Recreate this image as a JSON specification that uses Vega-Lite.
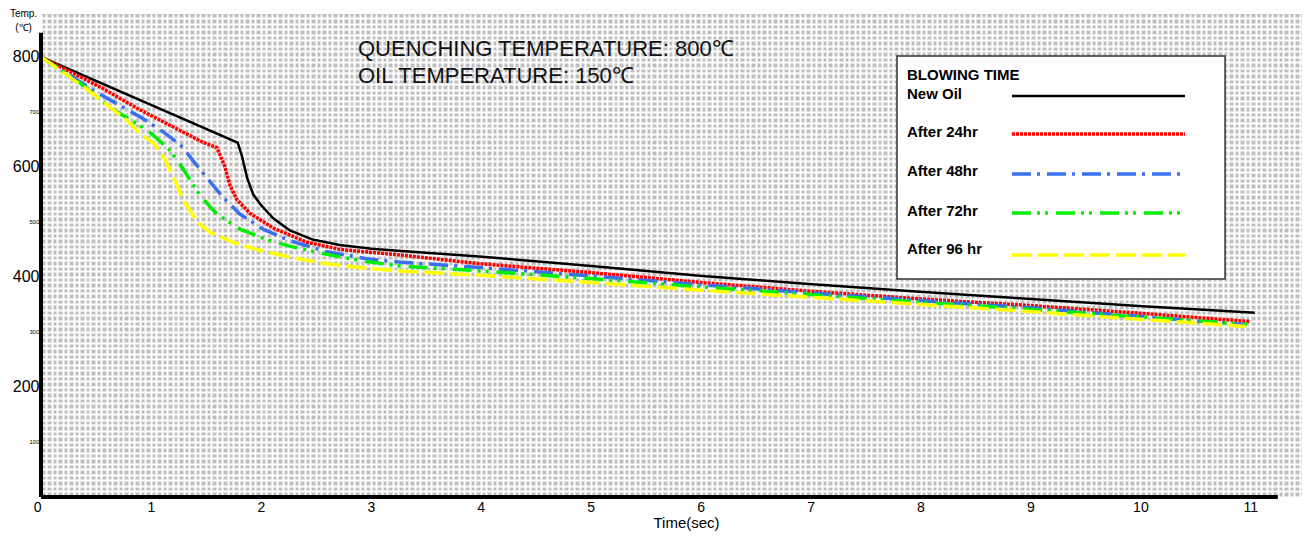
{
  "$schema": "https://vega.github.io/schema/vega-lite/v6.json",
  "width": 1261,
  "height": 483,
  "autosize": {"type": "none"},
  "padding": {"left": 41, "top": 14, "right": 7, "bottom": 39},
  "background": "white",
  "config": {
    "view": {"fill": "#bfbfbf", "stroke": null},
    "font": "Liberation Sans",
    "axis": {"domain": false, "ticks": false, "grid": true, "gridColor": "white", "gridWidth": 2, "gridOpacity": 1, "labelColor": "black", "titleColor": "black", "labelOverlap": false, "labelFlush": false}
  },
  "datasets": {
    "curves": [
      {"series": "New Oil", "time": 0, "temp": 800},
      {"series": "New Oil", "time": 1.79, "temp": 644},
      {"series": "New Oil", "time": 1.83, "temp": 618},
      {"series": "New Oil", "time": 1.875, "temp": 580},
      {"series": "New Oil", "time": 1.93, "temp": 550},
      {"series": "New Oil", "time": 2.0, "temp": 531},
      {"series": "New Oil", "time": 2.11, "temp": 507},
      {"series": "New Oil", "time": 2.26, "temp": 485},
      {"series": "New Oil", "time": 2.47, "temp": 468},
      {"series": "New Oil", "time": 2.72, "temp": 458},
      {"series": "New Oil", "time": 3.02, "temp": 451},
      {"series": "New Oil", "time": 3.5, "temp": 444},
      {"series": "New Oil", "time": 4, "temp": 437},
      {"series": "New Oil", "time": 5, "temp": 420},
      {"series": "New Oil", "time": 6, "temp": 402},
      {"series": "New Oil", "time": 7, "temp": 387},
      {"series": "New Oil", "time": 8, "temp": 373},
      {"series": "New Oil", "time": 9, "temp": 360},
      {"series": "New Oil", "time": 10, "temp": 347},
      {"series": "New Oil", "time": 11.04, "temp": 335},
      {"series": "After 24hr", "time": 0, "temp": 800},
      {"series": "After 24hr", "time": 0.54, "temp": 745},
      {"series": "After 24hr", "time": 0.9, "temp": 704},
      {"series": "After 24hr", "time": 1.2, "temp": 673},
      {"series": "After 24hr", "time": 1.47, "temp": 645},
      {"series": "After 24hr", "time": 1.6, "temp": 635},
      {"series": "After 24hr", "time": 1.67, "temp": 602},
      {"series": "After 24hr", "time": 1.72, "temp": 566},
      {"series": "After 24hr", "time": 1.78, "temp": 541},
      {"series": "After 24hr", "time": 1.9, "temp": 516},
      {"series": "After 24hr", "time": 2.11, "temp": 489},
      {"series": "After 24hr", "time": 2.42, "temp": 463},
      {"series": "After 24hr", "time": 2.72, "temp": 450},
      {"series": "After 24hr", "time": 3.26, "temp": 440},
      {"series": "After 24hr", "time": 4, "temp": 424},
      {"series": "After 24hr", "time": 5, "temp": 408},
      {"series": "After 24hr", "time": 6, "temp": 390},
      {"series": "After 24hr", "time": 7, "temp": 374},
      {"series": "After 24hr", "time": 8, "temp": 360},
      {"series": "After 24hr", "time": 9, "temp": 348},
      {"series": "After 24hr", "time": 10, "temp": 334},
      {"series": "After 24hr", "time": 10.99, "temp": 319},
      {"series": "After 48hr", "time": 0, "temp": 800},
      {"series": "After 48hr", "time": 0.47, "temp": 740},
      {"series": "After 48hr", "time": 0.9, "temp": 691},
      {"series": "After 48hr", "time": 1.11, "temp": 664},
      {"series": "After 48hr", "time": 1.29, "temp": 636},
      {"series": "After 48hr", "time": 1.38, "temp": 612},
      {"series": "After 48hr", "time": 1.51, "temp": 580},
      {"series": "After 48hr", "time": 1.65, "temp": 546},
      {"series": "After 48hr", "time": 1.81, "temp": 514},
      {"series": "After 48hr", "time": 2.02, "temp": 487},
      {"series": "After 48hr", "time": 2.26, "temp": 466},
      {"series": "After 48hr", "time": 2.6, "temp": 446},
      {"series": "After 48hr", "time": 2.96, "temp": 433},
      {"series": "After 48hr", "time": 3.26, "temp": 427},
      {"series": "After 48hr", "time": 4, "temp": 417},
      {"series": "After 48hr", "time": 5, "temp": 402},
      {"series": "After 48hr", "time": 6, "temp": 386},
      {"series": "After 48hr", "time": 7, "temp": 371},
      {"series": "After 48hr", "time": 8, "temp": 357},
      {"series": "After 48hr", "time": 9, "temp": 344},
      {"series": "After 48hr", "time": 10, "temp": 328},
      {"series": "After 48hr", "time": 10.97, "temp": 313},
      {"series": "After 72hr", "time": 0, "temp": 800},
      {"series": "After 72hr", "time": 0.36, "temp": 752},
      {"series": "After 72hr", "time": 0.63, "temp": 708},
      {"series": "After 72hr", "time": 0.93, "temp": 671},
      {"series": "After 72hr", "time": 1.02, "temp": 658},
      {"series": "After 72hr", "time": 1.17, "temp": 631},
      {"series": "After 72hr", "time": 1.29, "temp": 597},
      {"series": "After 72hr", "time": 1.45, "temp": 547},
      {"series": "After 72hr", "time": 1.6, "temp": 514},
      {"series": "After 72hr", "time": 1.81, "temp": 487},
      {"series": "After 72hr", "time": 2.05, "temp": 468},
      {"series": "After 72hr", "time": 2.26, "temp": 456},
      {"series": "After 72hr", "time": 2.6, "temp": 441},
      {"series": "After 72hr", "time": 2.96, "temp": 428},
      {"series": "After 72hr", "time": 3.26, "temp": 420},
      {"series": "After 72hr", "time": 4, "temp": 411},
      {"series": "After 72hr", "time": 5, "temp": 397},
      {"series": "After 72hr", "time": 6, "temp": 382},
      {"series": "After 72hr", "time": 7, "temp": 368},
      {"series": "After 72hr", "time": 8, "temp": 354},
      {"series": "After 72hr", "time": 9, "temp": 341},
      {"series": "After 72hr", "time": 10, "temp": 327},
      {"series": "After 72hr", "time": 10.97, "temp": 314},
      {"series": "After 96 hr", "time": 0, "temp": 800},
      {"series": "After 96 hr", "time": 0.42, "temp": 741},
      {"series": "After 96 hr", "time": 0.78, "temp": 685},
      {"series": "After 96 hr", "time": 0.9, "temp": 661},
      {"series": "After 96 hr", "time": 1.02, "temp": 644},
      {"series": "After 96 hr", "time": 1.11, "temp": 620},
      {"series": "After 96 hr", "time": 1.2, "temp": 584},
      {"series": "After 96 hr", "time": 1.29, "temp": 542},
      {"series": "After 96 hr", "time": 1.42, "temp": 500},
      {"series": "After 96 hr", "time": 1.54, "temp": 481},
      {"series": "After 96 hr", "time": 1.75, "temp": 463},
      {"series": "After 96 hr", "time": 1.96, "temp": 450},
      {"series": "After 96 hr", "time": 2.26, "temp": 436},
      {"series": "After 96 hr", "time": 2.6, "temp": 424},
      {"series": "After 96 hr", "time": 2.96, "temp": 416},
      {"series": "After 96 hr", "time": 3.26, "temp": 411},
      {"series": "After 96 hr", "time": 4, "temp": 403},
      {"series": "After 96 hr", "time": 5, "temp": 390},
      {"series": "After 96 hr", "time": 6, "temp": 376},
      {"series": "After 96 hr", "time": 7, "temp": 363},
      {"series": "After 96 hr", "time": 8, "temp": 350},
      {"series": "After 96 hr", "time": 9, "temp": 337},
      {"series": "After 96 hr", "time": 10, "temp": 323},
      {"series": "After 96 hr", "time": 10.96, "temp": 310}
    ]
  },
  "layer": [
    {
      "data": {"values": [{}]},
      "mark": {"type": "rect", "fill": "white", "stroke": "#333333", "strokeWidth": 1.5},
      "encoding": {
        "x": {"datum": 7.786, "type": "quantitative"},
        "x2": {"datum": 10.77},
        "y": {"datum": 801.7, "type": "quantitative"},
        "y2": {"datum": 396.3}
      }
    },
    {
      "data": {"name": "curves"},
      "mark": {"type": "line", "strokeCap": "butt", "strokeJoin": "miter"},
      "encoding": {
        "x": {
          "field": "time", "type": "quantitative",
          "scale": {"domain": [0, 11.47], "nice": false, "zero": false},
          "axis": {
            "title": "Time(sec)", "tickCount": 250,
            "labelExpr": "datum.value % 1 === 0 ? format(datum.value, 'd') : ''",
            "labelFontSize": 14, "labelPadding": 3,
            "labelAlign": {"condition": {"test": "datum.value === 0", "value": "right"}, "value": "center"},
            "titleFontSize": 15, "titleFontWeight": "normal", "titlePadding": 1, "titleX": 645
          }
        },
        "y": {
          "field": "temp", "type": "quantitative",
          "scale": {"domain": [0, 878], "nice": false},
          "axis": {
            "title": ["Temp.", "(℃)"], "tickCount": 88,
            "labelExpr": "datum.value % 100 === 0 && datum.value > 0 ? format(datum.value, 'd') : ''",
            "labelFontSize": {"condition": {"test": "datum.value % 200 === 0", "value": 16}, "value": 6},
            "labelPadding": 2,
            "titleAngle": 0, "titleAlign": "center", "titleBaseline": "top",
            "titleX": -18, "titleY": -6, "titleFontSize": 10, "titleFontWeight": "normal", "titleLineHeight": 14
          }
        },
        "color": {
          "field": "series", "type": "nominal",
          "scale": {
            "domain": ["New Oil", "After 24hr", "After 48hr", "After 72hr", "After 96 hr"],
            "range": ["#000000", "#ff0000", "#3a6ff0", "#00ee00", "#ffff00"]
          },
          "legend": null
        },
        "strokeDash": {
          "field": "series", "type": "nominal",
          "scale": {
            "domain": ["New Oil", "After 24hr", "After 48hr", "After 72hr", "After 96 hr"],
            "range": [[1, 0], [3, 1], [19, 6, 3, 7], [19, 6, 3, 5, 3, 8], [20, 6]]
          },
          "legend": null
        },
        "strokeWidth": {"condition": {"test": "datum.series === 'New Oil'", "value": 2.5}, "value": 3.5}
      }
    },
    {
      "data": {"values": [{}]},
      "mark": {"type": "rule", "color": "black", "strokeWidth": 4},
      "encoding": {
        "x": {"datum": 0, "type": "quantitative"},
        "y": {"datum": 0, "type": "quantitative"},
        "y2": {"datum": 844}
      }
    },
    {
      "data": {"values": [{}]},
      "mark": {"type": "rule", "color": "black", "strokeWidth": 4},
      "encoding": {
        "x": {"datum": 0, "type": "quantitative"},
        "x2": {"datum": 11.25},
        "y": {"datum": 0, "type": "quantitative"}
      }
    },
    {
      "data": {"values": [{"note": "QUENCHING TEMPERATURE: 800℃"}]},
      "mark": {"type": "text", "align": "left", "baseline": "middle", "fontSize": 22, "color": "#111111"},
      "encoding": {
        "x": {"datum": 2.883, "type": "quantitative"},
        "y": {"datum": 814.4, "type": "quantitative"},
        "text": {"field": "note"}
      }
    },
    {
      "data": {"values": [{"note": "OIL TEMPERATURE: 150℃"}]},
      "mark": {"type": "text", "align": "left", "baseline": "middle", "fontSize": 22, "color": "#111111"},
      "encoding": {
        "x": {"datum": 2.883, "type": "quantitative"},
        "y": {"datum": 765.3, "type": "quantitative"},
        "text": {"field": "note"}
      }
    },
    {
      "data": {"values": [{"label": "BLOWING TIME"}]},
      "mark": {"type": "text", "align": "left", "baseline": "middle", "fontSize": 15, "fontWeight": "bold", "color": "black"},
      "encoding": {"x": {"datum": 7.877, "type": "quantitative"}, "y": {"datum": 767.1, "type": "quantitative"}, "text": {"field": "label"}}
    },
    {
      "data": {"values": [{"label": "New Oil"}]},
      "mark": {"type": "text", "align": "left", "baseline": "middle", "fontSize": 15, "fontWeight": "bold", "color": "black"},
      "encoding": {"x": {"datum": 7.877, "type": "quantitative"}, "y": {"datum": 732.6, "type": "quantitative"}, "text": {"field": "label"}}
    },
    {
      "data": {"values": [{"label": "After 24hr"}]},
      "mark": {"type": "text", "align": "left", "baseline": "middle", "fontSize": 15, "fontWeight": "bold", "color": "black"},
      "encoding": {"x": {"datum": 7.877, "type": "quantitative"}, "y": {"datum": 662.6, "type": "quantitative"}, "text": {"field": "label"}}
    },
    {
      "data": {"values": [{"label": "After 48hr"}]},
      "mark": {"type": "text", "align": "left", "baseline": "middle", "fontSize": 15, "fontWeight": "bold", "color": "black"},
      "encoding": {"x": {"datum": 7.877, "type": "quantitative"}, "y": {"datum": 591.7, "type": "quantitative"}, "text": {"field": "label"}}
    },
    {
      "data": {"values": [{"label": "After 72hr"}]},
      "mark": {"type": "text", "align": "left", "baseline": "middle", "fontSize": 15, "fontWeight": "bold", "color": "black"},
      "encoding": {"x": {"datum": 7.877, "type": "quantitative"}, "y": {"datum": 520.8, "type": "quantitative"}, "text": {"field": "label"}}
    },
    {
      "data": {"values": [{"label": "After 96 hr"}]},
      "mark": {"type": "text", "align": "left", "baseline": "middle", "fontSize": 15, "fontWeight": "bold", "color": "black"},
      "encoding": {"x": {"datum": 7.877, "type": "quantitative"}, "y": {"datum": 450.8, "type": "quantitative"}, "text": {"field": "label"}}
    },
    {
      "data": {"values": [{}]},
      "mark": {"type": "rule", "color": "#000000", "strokeWidth": 2.5},
      "encoding": {"x": {"datum": 8.832, "type": "quantitative"}, "x2": {"datum": 10.406}, "y": {"datum": 729, "type": "quantitative"}}
    },
    {
      "data": {"values": [{}]},
      "mark": {"type": "rule", "color": "#ff0000", "strokeWidth": 3.5, "strokeDash": [3, 1]},
      "encoding": {"x": {"datum": 8.832, "type": "quantitative"}, "x2": {"datum": 10.406}, "y": {"datum": 659.9, "type": "quantitative"}}
    },
    {
      "data": {"values": [{}]},
      "mark": {"type": "rule", "color": "#3a6ff0", "strokeWidth": 3.5, "strokeDash": [19, 6, 3, 7]},
      "encoding": {"x": {"datum": 8.832, "type": "quantitative"}, "x2": {"datum": 10.406}, "y": {"datum": 587.2, "type": "quantitative"}}
    },
    {
      "data": {"values": [{}]},
      "mark": {"type": "rule", "color": "#00ee00", "strokeWidth": 3.5, "strokeDash": [19, 6, 3, 5, 3, 8]},
      "encoding": {"x": {"datum": 8.832, "type": "quantitative"}, "x2": {"datum": 10.406}, "y": {"datum": 516.3, "type": "quantitative"}}
    },
    {
      "data": {"values": [{}]},
      "mark": {"type": "rule", "color": "#ffff00", "strokeWidth": 3.5, "strokeDash": [20, 6]},
      "encoding": {"x": {"datum": 8.832, "type": "quantitative"}, "x2": {"datum": 10.406}, "y": {"datum": 439.9, "type": "quantitative"}}
    }
  ]
}
